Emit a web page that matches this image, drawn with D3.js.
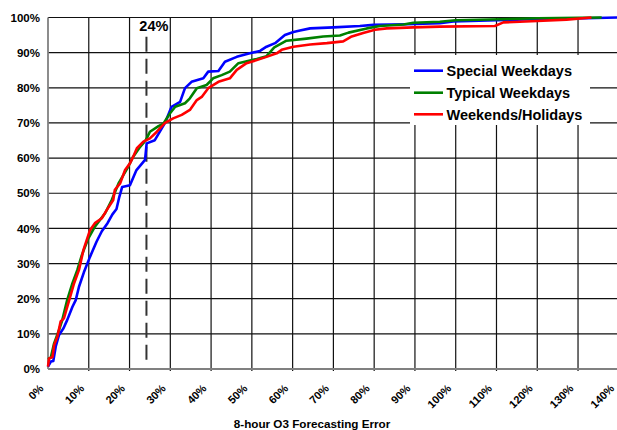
<!DOCTYPE html>
<html><head><meta charset="utf-8">
<script src="https://cdn.jsdelivr.net/npm/d3@7"></script>
<style>body{margin:0;background:#fff}svg{display:block}text{font-family:Arial,"Liberation Sans",sans-serif;font-weight:bold;fill:#000}</style>
</head><body><svg id="c" width="617" height="430"></svg>
<script>
const xTicks = [0,10,20,30,40,50,60,70,80,90,100,110,120,130,140];
const yTicks = [0,10,20,30,40,50,60,70,80,90,100];
const seriesNames = ["Special Weekdays","Typical Weekdays","Weekends/Holidays"];
const seriesColors = ["#0000FF","#008000","#FF0000"];
const markerValue = 24;
const markerLabel = "24%";
const xTitle = "8-hour O3 Forecasting Error";

const specialWeekdays = [[0,0.7],[0.7,2.1],[1.3,2.3],[1.9,6.4],[2.7,9.7],[3.8,11.6],[4.7,13.9],[6.0,17.7],[6.8,19.6],[7.6,23.4],[8.8,27.5],[10.3,31.9],[11.9,36.2],[13.2,39.2],[14.6,41.5],[15.8,44],[16.8,45.5],[17.5,49],[18.2,51.8],[20.1,52.3],[21.7,56.6],[23.8,59.5],[24.2,64.2],[26.2,65.1],[28.7,70],[30.3,74.6],[32.4,76],[33.6,79.9],[35.2,81.7],[38.1,82.7],[39.3,84.6],[41.8,84.8],[43.4,87.4],[46.3,88.8],[49.5,89.8],[52,90.5],[53.6,91.7],[55.7,92.7],[58.1,95],[60.2,95.9],[61.8,96.3],[64.3,96.9],[70,97.2],[76.5,97.6],[79.8,97.9],[88,98.1],[96.1,98.4],[99.4,98.9],[110,99.2],[121,99.6],[132,99.8],[140,100]];
const typicalWeekdays = [[0,2.8],[0.7,3.3],[1.5,7.3],[2.7,11.1],[3.5,13.9],[4.7,19.6],[6,24.4],[7.2,28.2],[8.3,32.4],[9.9,37.2],[11.5,40.5],[14,44.3],[15.6,48],[17.3,52.8],[19.7,57.6],[20.9,60.4],[22.6,63.2],[24,65.1],[25,67.5],[27.1,69.1],[28.3,69.8],[29.9,72.7],[31.2,74.6],[33.6,75.6],[34.8,77],[36.5,79.9],[38.9,80.8],[40.5,82.7],[42.6,83.6],[44.6,84.6],[46.7,87],[51.2,88.2],[53.6,89],[55.5,91.5],[58.5,93.4],[63.4,94],[67.5,94.6],[71.6,94.9],[73.7,95.7],[78.2,96.9],[81.4,97.6],[87.2,98],[89.6,98.5],[96.1,98.8],[100,99.2],[111,99.5],[120,99.8],[135.8,100]];
const weekendsHolidays = [[0,0.7],[0.25,3],[1.1,3.4],[1.5,6.8],[2.3,9.2],[3.1,13.5],[3.9,14.4],[5.2,19.6],[6.4,24.4],[7.6,28.2],[8.7,33.9],[10.3,39.5],[11.5,41.5],[13.2,42.9],[14.4,45.2],[16,48.1],[16.4,51],[17.7,52.8],[18.9,56.6],[20.1,58.5],[20.9,60.4],[21.8,62.8],[23.4,64.7],[25,65.6],[26.7,67.5],[28.7,70],[30.7,71.3],[32.8,72.3],[34.8,73.7],[36.5,76.5],[37.7,77.4],[39.3,79.9],[41.8,81.7],[44.6,82.7],[46.3,85.1],[48.7,87],[51.2,87.9],[53.6,88.8],[56.1,89.8],[57.3,90.8],[60.2,91.7],[64.3,92.3],[68.4,92.7],[72.4,93.2],[74.5,94.6],[77.3,95.6],[80.2,96.5],[83.1,96.9],[89.6,97.2],[96.1,97.4],[109.6,97.6],[111.7,98.6],[120,99],[127.2,99.4],[133.3,100]];
const allSeries = [specialWeekdays, typicalWeekdays, weekendsHolidays];

const svg = d3.select("#c");
const L = 48, R = 618.8, T = 17.5, B = 369;
const x = d3.scaleLinear().domain([0,140]).range([L,R]);
const y = d3.scaleLinear().domain([0,100]).range([B,T]);

// grid
const g = svg.append("g");
g.selectAll(".vg").data(xTicks.filter(d=>d>0)).join("line")
  .attr("x1",d=>x(d)).attr("x2",d=>x(d)).attr("y1",T).attr("y2",B+2)
  .attr("stroke","#111").attr("stroke-width",1.2);
g.selectAll(".hg").data(yTicks.filter(d=>d>0)).join("line")
  .attr("x1",L).attr("x2",R).attr("y1",d=>y(d)).attr("y2",d=>y(d))
  .attr("stroke","#111").attr("stroke-width",1.2);
// axes lines
svg.append("line").attr("x1",L).attr("x2",L).attr("y1",T).attr("y2",B).attr("stroke","#808080").attr("stroke-width",1.8);
svg.append("line").attr("x1",L).attr("x2",R).attr("y1",B).attr("y2",B).attr("stroke","#808080").attr("stroke-width",2);

// y labels
svg.selectAll(".yl").data(yTicks).join("text")
  .attr("x",40).attr("y",d=>y(d)).attr("dy","0.36em")
  .attr("text-anchor","end").style("font-size","11.5px").text(d=>d+"%");
// x labels
svg.selectAll(".xl").data(xTicks).join("text")
  .attr("text-anchor","end").style("font-size","11px")
  .attr("transform",d=>`translate(${x(d)-3.8},389) rotate(-45)`).text(d=>d+"%");
svg.append("text").attr("x",312).attr("y",428).attr("text-anchor","middle")
  .style("font-size","11.7px").text(xTitle);

// marker
svg.append("line").attr("x1",x(markerValue)+0.6).attr("x2",x(markerValue)+0.6).attr("y1",36.7).attr("y2",366)
  .attr("stroke","#333").attr("stroke-width",2).attr("stroke-dasharray","15,7");
svg.append("text").attr("x",x(markerValue)+8).attr("y",31).attr("text-anchor","middle")
  .style("font-size","14.5px").text(markerLabel);

// lines
const line = d3.line().x(d=>x(d[0])).y(d=>y(d[1]));
svg.selectAll(".s").data(allSeries).join("path")
  .attr("d",line).attr("fill","none").attr("stroke",(d,i)=>seriesColors[i])
  .attr("stroke-width",2.6).attr("stroke-linejoin","round");

// legend
const lg = svg.append("g");
lg.append("rect").attr("x",410).attr("y",55).attr("width",180).attr("height",70).attr("fill","#fff");
const rows = [70.7,92.7,114.3];
seriesNames.forEach((n,i)=>{
  lg.append("line").attr("x1",414).attr("x2",443).attr("y1",rows[i]).attr("y2",rows[i])
    .attr("stroke",seriesColors[i]).attr("stroke-width",2.6);
  lg.append("text").attr("x",446.5).attr("y",rows[i]).attr("dy","0.36em").style("font-size","14.5px").text(n);
});
</script></body></html>
